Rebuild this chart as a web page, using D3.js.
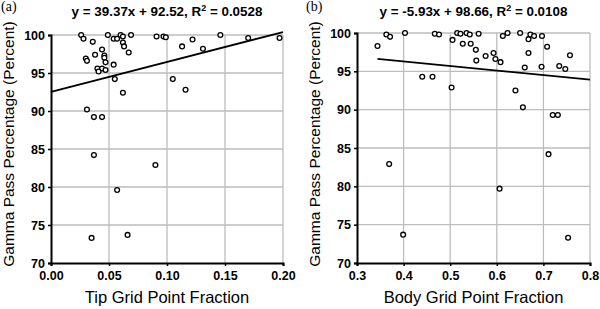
<!DOCTYPE html>
<html>
<head>
<meta charset="utf-8">
<script src="https://cdn.jsdelivr.net/npm/d3@7"></script>
<style>
  body { margin: 0; background: #fff; }
  svg { display: block; }
</style>
</head>
<body>
<div id="chart"></div>
<script>
// Panel (a): tip grid point fraction vs gamma pass percentage
const tipX = [0.026, 0.028, 0.036, 0.049, 0.054, 0.057, 0.060, 0.062, 0.069, 0.062,
              0.063, 0.067, 0.044, 0.038, 0.046, 0.046, 0.030, 0.031, 0.047, 0.054,
              0.040, 0.044, 0.041, 0.047, 0.055, 0.062, 0.091, 0.097, 0.099, 0.113,
              0.122, 0.131, 0.146, 0.170, 0.197, 0.105, 0.116, 0.031, 0.037, 0.044,
              0.037, 0.090, 0.057, 0.035, 0.066];
const tipY = [100.0, 99.5, 99.1, 100.0, 99.5, 99.5, 100.0, 99.8, 100.0, 99.0,
              98.5, 97.7, 98.1, 97.4, 97.3, 97.0, 96.9, 96.6, 96.4, 96.1,
              95.6, 95.6, 95.2, 95.4, 94.2, 92.4, 99.8, 99.8, 99.7, 98.5,
              99.4, 98.2, 100.0, 99.6, 99.6, 94.2, 92.8, 90.2, 89.2, 89.2,
              84.2, 82.9, 79.6, 73.3, 73.7];

// Panel (b): body grid point fraction vs gamma pass percentage
const bodyX = [0.344, 0.363, 0.371, 0.403, 0.467, 0.476, 0.440, 0.462, 0.503, 0.505,
               0.515, 0.522, 0.527, 0.535, 0.542, 0.544, 0.555, 0.561, 0.556, 0.576,
               0.593, 0.597, 0.608, 0.613, 0.623, 0.640, 0.650, 0.656, 0.660, 0.668,
               0.668, 0.672, 0.680, 0.697, 0.696, 0.708, 0.734, 0.747, 0.757, 0.720,
               0.731, 0.711, 0.369, 0.399, 0.606, 0.753];
const bodyY = [98.3, 99.8, 99.5, 100.0, 99.9, 99.8, 94.3, 94.3, 92.9, 99.1,
               100.0, 99.9, 98.6, 100.0, 99.8, 98.6, 97.8, 99.9, 96.4, 97.0,
               97.4, 96.6, 96.2, 99.6, 100.0, 92.5, 100.0, 90.3, 95.5, 97.4,
               99.2, 99.8, 99.6, 99.6, 95.6, 98.2, 95.7, 95.3, 97.1, 89.3,
               89.3, 84.2, 82.9, 73.7, 79.7, 73.3];

// axis ticks
const tipTicks = [0, 0.05, 0.1, 0.15, 0.2];
const bodyTicks = [0.3, 0.4, 0.5, 0.6, 0.7, 0.8];
const yTicks = [70, 75, 80, 85, 90, 95, 100];

// linear fits as given in the titles
const tipFit = { slope: 39.37, intercept: 92.52, r2: "0.0528" };
const bodyFit = { slope: -5.93, intercept: 98.66, r2: "0.0108" };
const tipTrendX = [0, 0.2];
const bodyTrendX = [0.344, 0.8];

const width = 600, height = 309;
const sansFont = "'Liberation Sans', Arial, sans-serif";

const svg = d3.select("#chart").append("svg")
    .attr("width", width)
    .attr("height", height);

function drawPanel(p) {
    const x = d3.scaleLinear().domain(p.xDomain).range([p.left, p.right]);
    const y = d3.scaleLinear().domain([70, 100]).range([263, p.top]);
    const g = svg.append("g");

    // gridlines
    g.selectAll(".vgrid").data(p.xTicks.slice(1)).enter().append("line")
        .attr("x1", d => x(d)).attr("x2", d => x(d))
        .attr("y1", y(70)).attr("y2", y(100))
        .attr("stroke", "#bdbdbd").attr("stroke-width", 1.3);
    g.selectAll(".hgrid").data(yTicks.slice(1)).enter().append("line")
        .attr("x1", x(p.xDomain[0])).attr("x2", x(p.xDomain[1]))
        .attr("y1", d => y(d)).attr("y2", d => y(d))
        .attr("stroke", "#bdbdbd").attr("stroke-width", 1.3);

    // axes
    const xAxis = g.append("g")
        .attr("transform", `translate(0,${y(70)})`)
        .call(d3.axisBottom(x).tickValues(p.xTicks).tickSize(3).tickFormat(d3.format(p.fmt)));
    const yAxis = g.append("g")
        .attr("transform", `translate(${x(p.xDomain[0])},0)`)
        .call(d3.axisLeft(y).tickValues(yTicks).tickSize(3));
    [xAxis, yAxis].forEach(a => {
        a.select(".domain").attr("stroke", "#000").attr("stroke-width", 2);
        a.selectAll(".tick line").attr("stroke", "#000").attr("stroke-width", 1.5);
        a.selectAll("text")
            .attr("fill", "#000")
            .style("font-family", sansFont)
            .style("font-size", "12.5px")
            .style("font-weight", "bold");
    });
    xAxis.selectAll("text").attr("y", 8).attr("dy", "0.71em");
    yAxis.selectAll("text").attr("x", -6);

    // trend line
    g.append("line")
        .attr("x1", x(p.trendX[0])).attr("y1", y(p.fit.intercept + p.fit.slope * p.trendX[0]))
        .attr("x2", x(p.trendX[1])).attr("y2", y(p.fit.intercept + p.fit.slope * p.trendX[1]))
        .attr("stroke", "#000").attr("stroke-width", 1.8);

    // points
    g.selectAll("circle").data(p.xs).enter().append("circle")
        .attr("cx", d => x(d))
        .attr("cy", (d, i) => y(p.ys[i]))
        .attr("r", 2.4)
        .attr("fill", "#fff")
        .attr("stroke", "#000")
        .attr("stroke-width", 1.3);

    // title
    const cx = (p.left + p.right) / 2;
    const t = g.append("text")
        .attr("x", cx).attr("y", 16)
        .attr("text-anchor", "middle")
        .style("font-family", sansFont)
        .style("font-size", "13.4px")
        .style("font-weight", "bold");
    t.append("tspan").text(`y = ${p.fit.slope.toFixed(2)}x + ${p.fit.intercept.toFixed(2)}, R`);
    t.append("tspan").attr("dy", -5).style("font-size", "9px").text("2");
    t.append("tspan").attr("dy", 5).text(` = ${p.fit.r2}`);

    // panel letter
    g.append("text")
        .attr("x", p.letterX).attr("y", 11)
        .style("font-family", "'Liberation Serif', 'Times New Roman', serif")
        .style("font-size", "14px")
        .text(p.letter);

    // axis titles
    g.append("text")
        .attr("x", cx).attr("y", 303)
        .attr("text-anchor", "middle")
        .style("font-family", sansFont)
        .style("font-size", "16.5px")
        .text(p.xLabel);
    g.append("text")
        .attr("transform", `translate(${p.yLabelX},144) rotate(-90)`)
        .attr("text-anchor", "middle")
        .style("font-family", sansFont)
        .style("font-size", "15.5px")
        .text("Gamma Pass Percentage (Percent)");
}

drawPanel({
    xs: tipX, ys: tipY, xTicks: tipTicks, xDomain: [0, 0.2], fmt: ".2f",
    left: 51, right: 283, top: 35, fit: tipFit, trendX: tipTrendX,
    letter: "(a)", letterX: 1, yLabelX: 14, xLabel: "Tip Grid Point Fraction"
});
drawPanel({
    xs: bodyX, ys: bodyY, xTicks: bodyTicks, xDomain: [0.3, 0.8], fmt: ".1f",
    left: 357, right: 590, top: 33, fit: bodyFit, trendX: bodyTrendX,
    letter: "(b)", letterX: 306, yLabelX: 320, xLabel: "Body Grid Point Fraction"
});
</script>
</body>
</html>
